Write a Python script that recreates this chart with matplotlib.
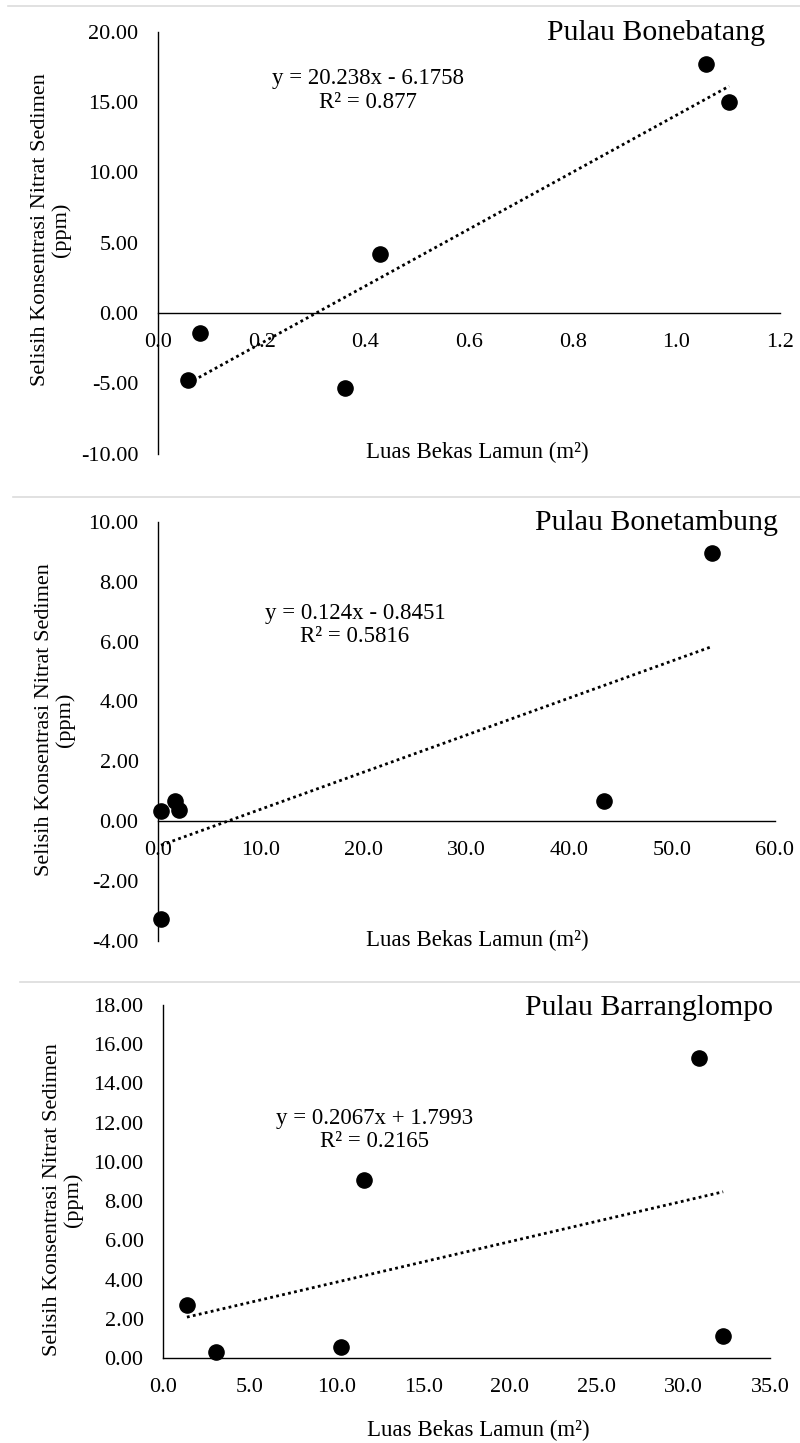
import matplotlib
matplotlib.use("Agg")
import matplotlib.pyplot as plt
import numpy as np
from matplotlib.lines import Line2D

plt.rcParams['font.family'] = ['Liberation Serif', 'DejaVu Serif']

W, H = 800, 1443

# ---- data ----
bb_x = [0.058, 0.081, 0.361, 0.428, 1.057, 1.102]
bb_y = [-4.76, -1.42, -5.33, 4.19, 17.7, 15.0]
bb_coef = [20.238, -6.1758]

bt_x = [0.29, 1.65, 2.0, 0.3, 43.4, 53.9]
bt_y = [0.33, 0.67, 0.37, -3.28, 0.68, 8.95]
bt_coef = [0.124, -0.8451]

bl_x = [1.38, 3.06, 10.25, 11.58, 30.9, 32.3]
bl_y = [2.70, 0.30, 0.58, 9.08, 15.29, 1.14]
bl_coef = [0.2067, 1.7993]

titles = ["Pulau Bonebatang", "Pulau Bonetambung", "Pulau Barranglompo"]
eqs = ["y = 20.238x - 6.1758\nR² = 0.877",
       "y = 0.124x - 0.8451\nR² = 0.5816",
       "y = 0.2067x + 1.7993\nR² = 0.2165"]
xlabel = "Luas Bekas Lamun (m²)"
ylabel = "Selisih Konsentrasi Nitrat Sedimen\n(ppm)"

bb_xticks = [0.0, 0.2, 0.4, 0.6, 0.8, 1.0, 1.2]
bb_yticks = [-10, -5, 0, 5, 10, 15, 20]
bt_xticks = [0, 10, 20, 30, 40, 50, 60]
bt_yticks = [-4, -2, 0, 2, 4, 6, 8, 10]
bl_xticks = [0, 5, 10, 15, 20, 25, 30, 35]
bl_yticks = [0, 2, 4, 6, 8, 10, 12, 14, 16, 18]

fig = plt.figure(figsize=(W / 100, H / 100), dpi=100)


def add_ax(left, right, top, bottom):
    return fig.add_axes([left / W, 1 - bottom / H, (right - left) / W, (bottom - top) / H])


panels = [
    dict(box=(158, 780, 31.7, 453.7), x=bb_x, y=bb_y, coef=bb_coef,
         xt=bb_xticks, yt=bb_yticks, xlim=(0, 1.2), ylim=(-10, 20), zero=True,
         title_pos=(0.976, 0.997), eq_pos=(0.338, 0.861), xl_pos=(0.513, 0.004),
         yl_pos=(-0.172, 0.53)),
    dict(box=(158, 775, 522, 940.6), x=bt_x, y=bt_y, coef=bt_coef,
         xt=bt_xticks, yt=bt_yticks, xlim=(0, 60), ylim=(-4, 10), zero=True,
         title_pos=(1.005, 0.998), eq_pos=(0.319, 0.754), xl_pos=(0.518, 0.0),
         yl_pos=(-0.167, 0.527)),
    dict(box=(163, 770, 1005, 1358), x=bl_x, y=bl_y, coef=bl_coef,
         xt=bl_xticks, yt=bl_yticks, xlim=(0, 35), ylim=(0, 18), zero=False,
         title_pos=(1.005, 0.992), eq_pos=(0.349, 0.646), xl_pos=(0.519, -0.204),
         yl_pos=(-0.165, 0.448)),
]

for i, p in enumerate(panels):
    ax = add_ax(*p['box'])
    ax.set_xlim(*p['xlim'])
    ax.set_ylim(*p['ylim'])
    ax.set_xticks(p['xt'])
    ax.set_yticks(p['yt'])
    ax.set_xticklabels([f"{v:.1f}" for v in p['xt']])
    ax.set_yticklabels([f"{v:.2f}" for v in p['yt']])
    for s in ['top', 'right']:
        ax.spines[s].set_visible(False)
    for s in ['left', 'bottom']:
        ax.spines[s].set_color('black')
        ax.spines[s].set_linewidth(1.0)
    if p['zero']:
        ax.spines['bottom'].set_position(('data', 0))
    ax.tick_params(axis='both', length=0, labelsize=16, colors='black')
    ax.tick_params(axis='x', pad=14.5)
    ax.tick_params(axis='y', pad=14)
    ax.patch.set_alpha(0)

    xs = np.array(p['x'])
    xl = np.array([xs.min(), xs.max()])
    ax.plot(xl, p['coef'][0] * xl + p['coef'][1], color='black',
            linestyle=(0, (1, 1.2)), linewidth=2, zorder=2)
    ax.scatter(p['x'], p['y'], s=120, color='black', zorder=3, clip_on=False)

    ax.text(p['title_pos'][0], p['title_pos'][1], titles[i], transform=ax.transAxes,
            ha='right', va='center', fontsize=21.5)
    ax.text(p['eq_pos'][0], p['eq_pos'][1], eqs[i], transform=ax.transAxes,
            ha='center', va='center', fontsize=16.5, linespacing=1.15, multialignment='center')
    ax.text(p['xl_pos'][0], p['xl_pos'][1], xlabel, transform=ax.transAxes,
            ha='center', va='center', fontsize=16.5)
    ax.text(p['yl_pos'][0], p['yl_pos'][1], ylabel, transform=ax.transAxes,
            ha='center', va='center', fontsize=16, rotation=90,
            linespacing=1.05, multialignment='center')

# separator lines between the stacked charts
for yy, x0 in [(6, 8), (497, 13), (982, 20)]:
    fig.add_artist(Line2D([x0 / W, 1.0], [1 - yy / H, 1 - yy / H],
                          transform=fig.transFigure, color='#dcdcdc', linewidth=1.2))

fig.savefig("out.png", dpi=100, facecolor='white')
